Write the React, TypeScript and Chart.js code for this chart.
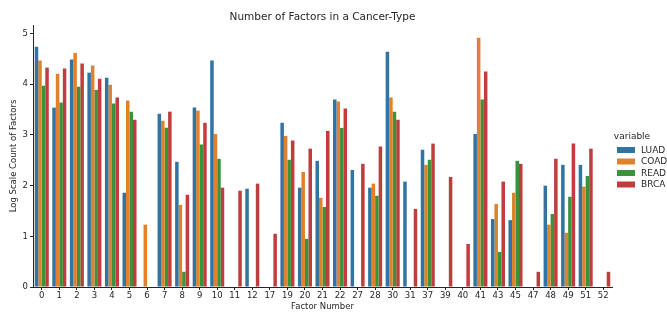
import React, { useEffect, useRef } from "react";
import { Chart, registerables } from "chart.js";

Chart.register(...registerables);

const categories = ["0","1","2","3","4","5","6","7","8","9","10","11","12","17","19","20","21","22","27","28","30","31","37","39","40","41","43","45","47","48","49","51","52"];

const LUAD = [4.74,3.54,4.49,4.23,4.13,1.86,null,3.42,2.47,3.54,4.47,null,1.94,null,3.24,1.96,2.49,3.70,2.31,1.96,4.64,2.08,2.71,null,null,3.02,1.34,1.32,null,2.00,2.41,2.41,null];
const COAD = [4.47,4.21,4.62,4.37,3.99,3.68,1.23,3.28,1.62,3.48,3.02,null,null,null,2.98,2.27,1.76,3.66,null,2.04,3.74,null,2.41,null,null,4.92,1.64,1.86,null,1.23,1.07,1.98,null];
const READ = [3.97,3.64,3.95,3.89,3.62,3.46,null,3.14,0.30,2.81,2.53,null,null,null,2.51,0.95,1.58,3.14,null,1.80,3.46,null,2.51,null,null,3.70,0.69,2.49,null,1.44,1.78,2.19,null];
const BRCA = [4.33,4.31,4.41,4.11,3.74,3.30,null,3.46,1.82,3.24,1.96,1.90,2.04,1.05,2.89,2.73,3.08,3.52,2.43,2.77,3.30,1.54,2.83,2.17,0.85,4.25,2.08,2.43,0.30,2.53,2.83,2.73,0.30];

const seriesNames = ["LUAD", "COAD", "READ", "BRCA"];
const seriesValues = [LUAD, COAD, READ, BRCA];
const seriesColors = ["#3274a1", "#e1812c", "#3a923a", "#c03d3e"];
const yTicks = [0, 1, 2, 3, 4, 5];
const chartTitle = "Number of Factors in a Cancer-Type";

const TEXT = "#262626";

const legendPlugin = {
  id: "customLegend",
  afterDraw(chart: any) {
    const ctx = chart.ctx;
    const ca = chart.chartArea;
    ctx.save();
    // title centered over the plot area
    ctx.fillStyle = TEXT;
    ctx.font = "10.5px 'DejaVu Sans'";
    ctx.textAlign = "center";
    ctx.textBaseline = "middle";
    ctx.fillText(chartTitle, (ca.left + ca.right) / 2, 17);
    // legend
    const x0 = ca.right + 5;
    ctx.font = "9px 'DejaVu Sans'";
    ctx.fillText("variable", x0 + 15, 137);
    chart.data.datasets.forEach((ds: any, i: number) => {
      const cy = 150 + i * 11.5;
      ctx.fillStyle = ds.backgroundColor;
      ctx.fillRect(x0, cy - 3, 18, 6);
      ctx.fillStyle = TEXT;
      ctx.textAlign = "left";
      ctx.fillText(ds.label, x0 + 24, cy + 0.5);
    });
    ctx.restore();
  },
};

export default function App() {
  const ref = useRef<HTMLCanvasElement>(null);
  useEffect(() => {
    document.body.style.margin = "0";
    Chart.defaults.font.family = "'DejaVu Sans'";
    Chart.defaults.color = TEXT;
    const chart = new Chart(ref.current!, {
      type: "bar",
      data: {
        labels: categories,
        datasets: seriesNames.map((n, i) => ({
          label: n,
          data: seriesValues[i],
          backgroundColor: seriesColors[i],
          borderWidth: 0,
          categoryPercentage: 0.8,
          barPercentage: 1.0,
        })),
      },
      options: {
        animation: false,
        responsive: false,
        layout: { padding: { left: 0, right: 55, top: 25, bottom: 0 } },
        plugins: {
          legend: { display: false },
          tooltip: { enabled: false },
          title: { display: false },
        },
        scales: {
          x: {
            grid: { offset: false, drawOnChartArea: false, drawTicks: true, tickLength: 3, color: TEXT },
            border: { display: true, color: TEXT, width: 1 },
            ticks: { font: { size: 8.5 }, color: TEXT, padding: 1, maxRotation: 0, autoSkip: false },
            title: { display: true, text: "Factor Number", font: { size: 8.5 }, color: TEXT, padding: { top: 0, bottom: 1 } },
            afterFit(s: any) { s.height = 26; },
          },
          y: {
            min: 0,
            max: 5.17,
            grid: { drawOnChartArea: false, drawTicks: true, tickLength: 3, color: TEXT },
            border: { display: true, color: TEXT, width: 1 },
            ticks: { font: { size: 8.5 }, color: TEXT, padding: 2, stepSize: 1 },
            afterBuildTicks(s: any) { s.ticks = yTicks.map((v) => ({ value: v })); },
            title: { display: true, text: "Log Scale Count of Factors", font: { size: 8.5 }, color: TEXT, padding: { top: 9, bottom: 2 } },
            afterFit(s: any) { s.width = 33; },
          },
        },
      },
      plugins: [legendPlugin],
    });
    return () => chart.destroy();
  }, []);
  return <canvas ref={ref} width={667} height={313} style={{ display: "block" }} />;
}
